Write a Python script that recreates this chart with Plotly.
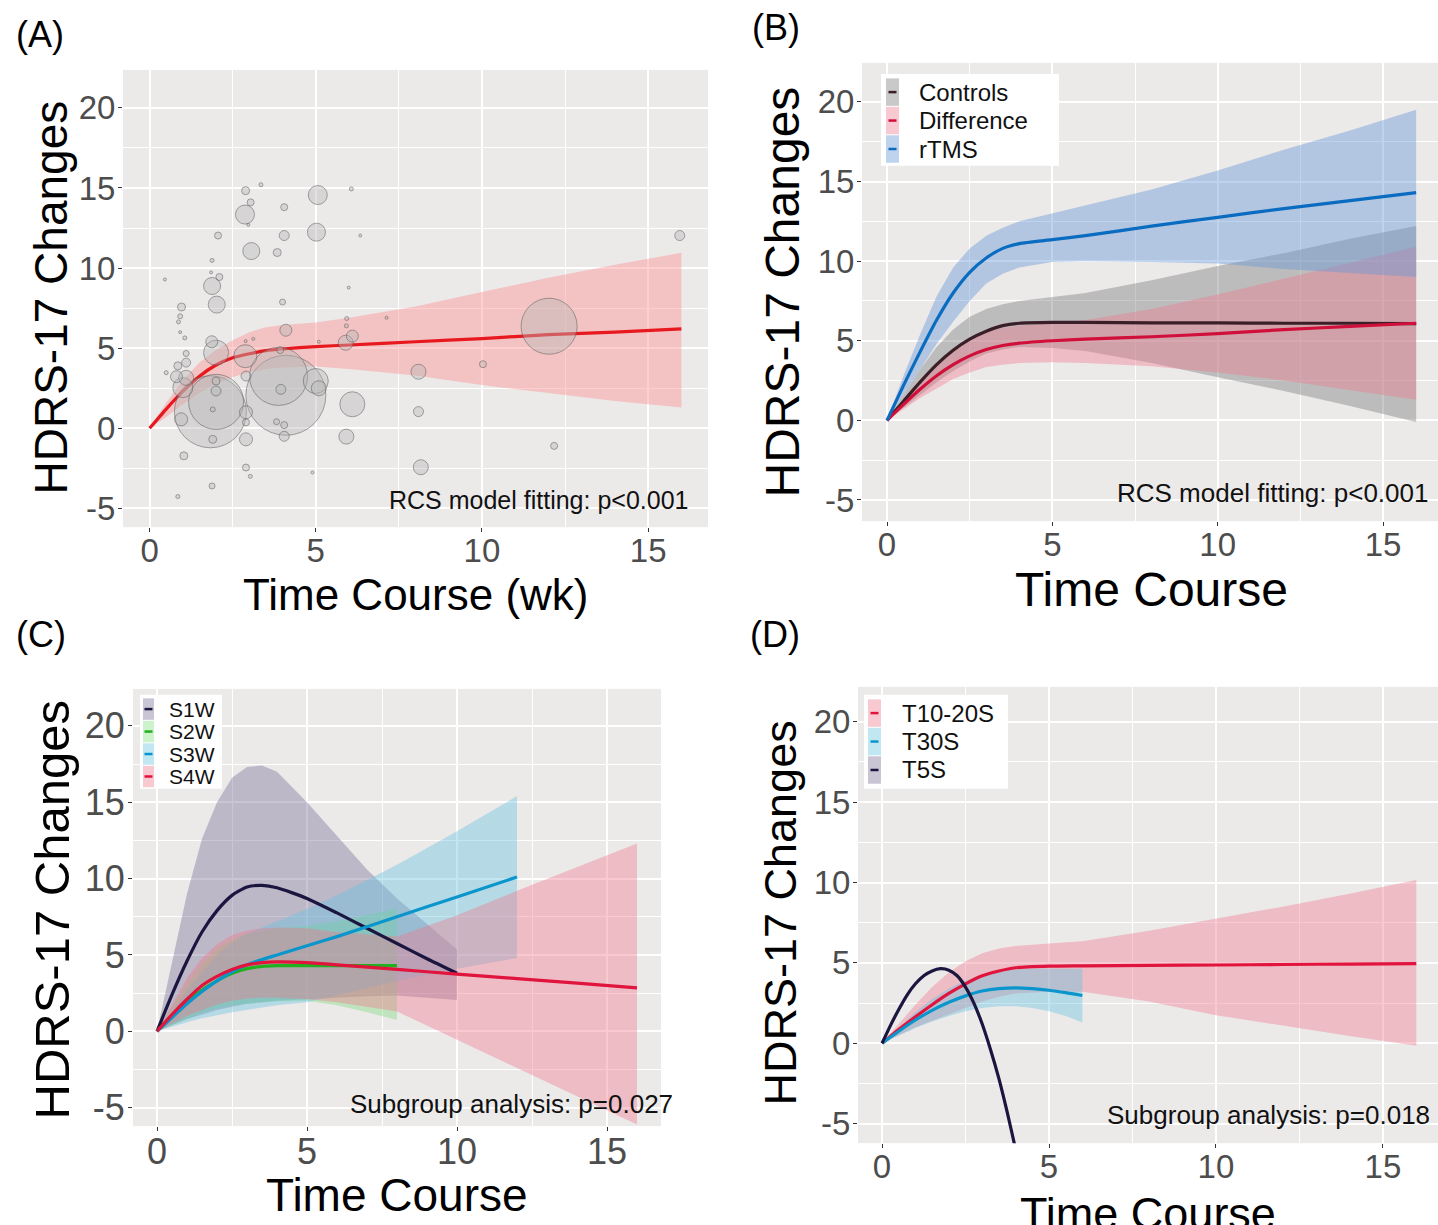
import plotly.graph_objects as go

W, H = 1438, 1225
FONT = "Liberation Sans, Arial, sans-serif"
BG = "#ECE9E9"
TICKC = "#4D4D4D"

# ---------------- data ----------------
y_ticks = [-5, 0, 5, 10, 15, 20]
y_tick_text = ["-5", "0", "5", "10", "15", "20"]
x_ticks = [0, 5, 10, 15]

# Panel A: RCS fit with confidence band and study bubbles
a_x = [0, 0.5, 1, 1.5, 2, 2.5, 3, 3.5, 4, 5, 6, 8, 10, 12, 14, 16]
a_fit = [0, 1.2, 2.3, 3.25, 3.95, 4.4, 4.65, 4.85, 4.95, 5.1, 5.2, 5.4, 5.6, 5.85, 6.0, 6.2]
a_lo = [0, 0.7, 1.5, 2.2, 2.8, 3.2, 3.5, 3.7, 3.8, 3.85, 3.7, 3.3, 2.7, 2.2, 1.7, 1.3]
a_hi = [0, 1.6, 3.0, 4.1, 4.9, 5.5, 6.0, 6.3, 6.45, 6.6, 6.9, 7.6, 8.5, 9.4, 10.2, 10.95]

bub_x = [2.89, 3.35, 6.07, 5.06, 3.04, 4.05, 2.87, 2.97, 5.02, 2.06, 4.05, 6.34, 15.95,
         3.06, 3.84, 1.88, 1.85, 2.10, 0.46, 1.88, 5.99, 2.02, 4.00, 0.96, 0.92, 0.87,
         7.13, 5.93, 5.92, 4.10, 0.92, 1.06, 12.02, 6.1, 5.9, 3.12, 2.89, 5.09, 1.87,
         1.10, 2.0, 2.88, 3.93, 0.85, 0.50, 1.1, 1.0, 0.95, 1.83, 2.0, 2.0, 2.0, 1.9,
         1.03, 1.9, 0.85, 1.88, 2.9, 2.9, 2.9, 3.03, 4.1, 3.88, 3.95, 2.9, 3.82, 4.05,
         4.05, 4.9, 5.0, 5.09, 6.1, 5.92, 8.09, 8.09, 8.16, 10.03, 12.17, 2.9, 0.81, 1.1]
bub_y = [14.83, 15.2, 14.94, 14.56, 14.1, 13.8, 13.34, 12.7, 12.24, 12.03, 12.03, 12.03, 12.03,
         11.06, 10.97, 10.48, 9.73, 9.44, 9.29, 8.88, 8.78, 7.72, 7.88, 7.57, 6.99, 6.64,
         6.9, 6.85, 6.39, 6.12, 6.0, 5.64, 6.37, 5.75, 5.34, 5.58, 5.44, 5.4, 5.4,
         4.67, 4.72, 4.5, 4.88, 3.9, 3.47, 3.15, 2.54, 0.56, 1.03, 1.65, 2.95, 2.33, 1.18,
         -1.72, -0.69, -4.26, -3.6, -0.69, -2.45, 0.37, -3.0, 2.06, 3.24, 2.43, 3.26, 0.41, 0.2,
         -0.5, -2.76, 2.95, 2.5, 1.5, -0.52, 3.53, 1.04, -2.43, 4.0, -1.1, 1.0, 3.22, 4.1]
bub_s = [8, 4, 4, 19, 7, 7, 19, 3, 18, 7, 10, 3, 10,
         17, 8, 4, 3, 7, 3, 17, 3, 17, 6, 8, 5, 4,
         3, 4, 4, 12, 3, 4, 56, 12, 15, 3, 3, 3, 12,
         6, 25, 23, 7, 8, 4, 15, 20, 13, 72, 55, 8, 10, 5,
         8, 8, 4, 6, 13, 7, 7, 4, 80, 58, 10, 10, 6, 7,
         10, 3, 25, 15, 25, 15, 15, 10, 15, 7, 7, 13, 12, 9]

# Panel B
b_x = [0, 0.5, 1, 1.5, 2, 2.5, 3, 3.5, 4, 5, 6, 8, 10, 12, 14, 16]
b_ctrl = [0, 1.2, 2.4, 3.5, 4.4, 5.1, 5.6, 5.95, 6.1, 6.15, 6.15, 6.12, 6.12, 6.1, 6.1, 6.08]
b_ctrl_lo = [0, 0.8, 1.6, 2.4, 3.1, 3.7, 4.2, 4.45, 4.6, 4.55, 4.35, 3.6, 2.7, 1.85, 0.9, -0.1]
b_ctrl_hi = [0, 1.6, 3.2, 4.6, 5.7, 6.5, 7.0, 7.3, 7.5, 7.75, 8.0, 8.8, 9.7, 10.5, 11.4, 12.2]
b_diff = [0, 1.0, 1.95, 2.8, 3.5, 4.05, 4.45, 4.7, 4.85, 5.0, 5.1, 5.25, 5.45, 5.7, 5.9, 6.1]
b_diff_lo = [0, 0.7, 1.4, 2.0, 2.6, 3.0, 3.35, 3.5, 3.6, 3.65, 3.6, 3.4, 3.0, 2.5, 1.9, 1.3]
b_diff_hi = [0, 1.3, 2.5, 3.6, 4.4, 5.1, 5.55, 5.8, 5.95, 6.1, 6.3, 7.0, 7.9, 8.9, 9.9, 10.9]
b_rtms = [0, 2.2, 4.3, 6.3, 8.0, 9.3, 10.2, 10.8, 11.1, 11.35, 11.6, 12.2, 12.75, 13.3, 13.8, 14.3]
b_rtms_lo = [0, 1.6, 3.2, 4.8, 6.2, 7.5, 8.6, 9.2, 9.6, 9.95, 10.0, 9.95, 9.85, 9.5, 9.25, 9.0]
b_rtms_hi = [0, 2.8, 5.4, 7.8, 9.6, 10.8, 11.6, 12.1, 12.5, 13.0, 13.5, 14.5, 15.7, 17.0, 18.2, 19.5]

# Panel C
c1_x = [0, 0.5, 1, 1.5, 2, 2.5, 3, 3.5, 4, 5, 6, 7, 8, 9, 10]
c1_y = [0, 2.4, 4.6, 6.5, 7.9, 8.9, 9.45, 9.55, 9.4, 8.7, 7.75, 6.75, 5.75, 4.75, 3.8]
c1_lo = [0, 0.4, 0.8, 1.1, 1.4, 1.6, 1.8, 1.9, 2.0, 2.1, 2.2, 2.3, 2.35, 2.2, 2.05]
c1_hi = [0, 4.5, 9.0, 12.6, 15.0, 16.6, 17.3, 17.4, 17.0, 15.0, 12.8, 10.6, 8.7, 7.0, 5.35]
c2_x = [0, 0.5, 1, 1.5, 2, 2.5, 3, 3.5, 4, 5, 6, 7, 8]
c2_y = [0, 1.0, 1.9, 2.7, 3.3, 3.8, 4.1, 4.25, 4.3, 4.3, 4.3, 4.3, 4.3]
c2_lo = [0, 0.4, 0.8, 1.2, 1.5, 1.7, 1.8, 1.9, 1.95, 2.0, 1.7, 1.25, 0.74]
c2_hi = [0, 1.6, 3.1, 4.4, 5.4, 6.0, 6.4, 6.6, 6.75, 6.9, 7.2, 7.6, 8.05]
c3_x = [0, 0.5, 1, 1.5, 2, 2.5, 3, 3.5, 4, 5, 6, 8, 10, 12]
c3_y = [0, 0.9, 1.8, 2.6, 3.3, 3.9, 4.35, 4.7, 5.0, 5.6, 6.2, 7.5, 8.8, 10.1]
c3_lo = [0, 0.3, 0.6, 0.85, 1.05, 1.25, 1.4, 1.55, 1.7, 1.9, 2.4, 3.3, 4.1, 4.8]
c3_hi = [0, 1.3, 2.7, 3.9, 5.0, 5.8, 6.4, 6.8, 7.2, 8.0, 8.9, 10.9, 13.1, 15.4]
c4_x = [0, 0.5, 1, 1.5, 2, 2.5, 3, 3.5, 4, 5, 6, 8, 10, 12, 14, 16]
c4_y = [0, 1.1, 2.1, 3.0, 3.6, 4.05, 4.35, 4.5, 4.55, 4.5, 4.35, 4.05, 3.75, 3.45, 3.15, 2.85]
c4_lo = [0, 0.5, 1.0, 1.4, 1.75, 2.0, 2.15, 2.2, 2.2, 2.1, 1.9, 1.3, -0.55, -2.4, -4.25, -6.1]
c4_hi = [0, 1.8, 3.5, 4.8, 5.7, 6.3, 6.6, 6.75, 6.8, 6.75, 6.5, 6.2, 7.6, 9.2, 10.75, 12.3]

# Panel D
d1_x = [0, 0.5, 1, 1.5, 2, 2.5, 3, 3.5, 4, 5, 6, 8, 10, 12, 14, 16]
d1_y = [0, 0.85, 1.65, 2.4, 3.1, 3.7, 4.2, 4.5, 4.7, 4.8, 4.82, 4.85, 4.87, 4.9, 4.93, 4.95]
d1_lo = [0, 0.5, 1.0, 1.4, 1.8, 2.2, 2.6, 2.9, 3.1, 3.2, 3.2, 2.6, 1.75, 1.1, 0.45, -0.15]
d1_hi = [0, 1.2, 2.4, 3.5, 4.4, 5.1, 5.6, 5.9, 6.05, 6.2, 6.35, 7.0, 7.75, 8.5, 9.3, 10.15]
d2_x = [0, 0.5, 1, 1.5, 2, 2.5, 3, 3.5, 4, 4.5, 5, 5.5, 6]
d2_y = [0, 0.75, 1.45, 2.05, 2.55, 2.95, 3.25, 3.4, 3.45, 3.4, 3.3, 3.15, 2.97]
d2_lo = [0, 0.5, 0.95, 1.35, 1.7, 2.0, 2.2, 2.3, 2.3, 2.2, 2.0, 1.7, 1.3]
d2_hi = [0, 1.0, 1.95, 2.75, 3.4, 3.9, 4.25, 4.5, 4.6, 4.65, 4.65, 4.65, 4.63]
d3_x = [0, 0.25, 0.5, 0.75, 1.0, 1.25, 1.5, 1.75, 2.0, 2.25, 2.5, 2.75, 3.0, 3.25, 3.5, 3.75, 4.0, 4.25]
d3_y = [0, 1.1, 2.1, 3.0, 3.7, 4.2, 4.5, 4.64, 4.55, 4.2, 3.5, 2.5, 1.2, -0.4, -2.2, -4.3, -6.6, -9.0]

# ---------------- styling ----------------
PINK = "rgba(240,120,140,0.40)"
PINK_A = "rgba(255,135,135,0.40)"
GREY = "rgba(120,120,120,0.40)"
BLUE = "rgba(100,150,215,0.42)"
PURP = "rgba(120,110,150,0.40)"
GREEN = "rgba(110,220,110,0.35)"
CYAN = "rgba(100,195,225,0.40)"

L_RED = "#D0103A"
L_DARK = "#3A1F28"
L_BLUE = "#0A6CC0"
L_NAVY = "#1B1640"
L_GREEN = "#20B020"
L_CYAN = "#0A96CC"


def PX(px):
    return px / W


def PY(py):
    return 1 - py / H


fig = go.Figure()


def ribbon(xs, lo, hi, color, xa, ya):
    fig.add_trace(go.Scatter(x=list(xs) + list(xs)[::-1], y=list(hi) + list(lo)[::-1],
                             fill="toself", fillcolor=color, mode="lines",
                             line=dict(width=0), hoverinfo="skip", showlegend=False,
                             xaxis=xa, yaxis=ya))


def curve(xs, ys, color, xa, ya, w=3.2):
    fig.add_trace(go.Scatter(x=xs, y=ys, mode="lines",
                             line=dict(color=color, width=w, shape="spline", smoothing=0.6),
                             showlegend=False, xaxis=xa, yaxis=ya))


# Panel A
ribbon(a_x, a_lo, a_hi, PINK_A, "x", "y")
curve(a_x, a_fit, "#E8191E", "x", "y")
order = sorted(range(len(bub_s)), key=lambda i: -bub_s[i])
fig.add_trace(go.Scatter(x=[bub_x[i] for i in order], y=[bub_y[i] for i in order], mode="markers",
                         marker=dict(size=[bub_s[i] for i in order], color="rgba(185,185,185,0.6)",
                                     line=dict(color="rgba(95,95,95,0.8)", width=1)),
                         showlegend=False, xaxis="x", yaxis="y"))

# Panel B
ribbon(b_x, b_ctrl_lo, b_ctrl_hi, GREY, "x2", "y2")
ribbon(b_x, b_diff_lo, b_diff_hi, PINK, "x2", "y2")
ribbon(b_x, b_rtms_lo, b_rtms_hi, BLUE, "x2", "y2")
curve(b_x, b_ctrl, L_DARK, "x2", "y2")
curve(b_x, b_diff, L_RED, "x2", "y2")
curve(b_x, b_rtms, L_BLUE, "x2", "y2")

# Panel C
ribbon(c1_x, c1_lo, c1_hi, PURP, "x3", "y3")
ribbon(c2_x, c2_lo, c2_hi, GREEN, "x3", "y3")
ribbon(c3_x, c3_lo, c3_hi, CYAN, "x3", "y3")
ribbon(c4_x, c4_lo, c4_hi, PINK, "x3", "y3")
curve(c1_x, c1_y, L_NAVY, "x3", "y3")
curve(c2_x, c2_y, L_GREEN, "x3", "y3")
curve(c3_x, c3_y, L_CYAN, "x3", "y3")
curve(c4_x, c4_y, "#E0143C", "x3", "y3")

# Panel D
ribbon(d1_x, d1_lo, d1_hi, PINK, "x4", "y4")
ribbon(d2_x, d2_lo, d2_hi, CYAN, "x4", "y4")
curve(d1_x, d1_y, "#E0143C", "x4", "y4")
curve(d2_x, d2_y, L_CYAN, "x4", "y4")
curve(d3_x, d3_y, L_NAVY, "x4", "y4")

# ---------------- axes ----------------
panels = {
    # name: (x px domain, y px domain(top,bottom), xrange, yrange, tickfont)
    "1": ((123, 708), (70, 528), [-0.8, 16.8], [-6.17, 22.37], 33),
    "2": ((862, 1438), (63, 522), [-0.756, 16.66], [-6.33, 22.45], 33),
    "3": ((133, 661), (690, 1128), [-0.8, 16.8], [-6.21, 22.42], 36),
    "4": ((858, 1438), (688, 1145), [-0.72, 16.65], [-6.21, 22.17], 33),
}
layout_axes = {}
for k, (xd, yd, xr, yr, fs) in panels.items():
    sfx = "" if k == "1" else k
    common = dict(showgrid=True, gridcolor="white", gridwidth=1.6, zeroline=False,
                  ticks="outside", ticklen=4, tickwidth=1, tickcolor="#333333",
                  tickfont=dict(family=FONT, size=fs, color=TICKC), showline=False,
                  tickmode="array")
    layout_axes["xaxis" + sfx] = dict(common, domain=[PX(xd[0]), PX(xd[1])], range=xr,
                                      tickvals=x_ticks, anchor="y" + sfx, ticklabelstandoff=-10,
                                      minor=dict(tickvals=[2.5, 7.5, 12.5], showgrid=True,
                                                 gridcolor="white", gridwidth=0.8, ticks=""))
    layout_axes["yaxis" + sfx] = dict(common, domain=[PY(yd[1]), PY(yd[0])], range=yr,
                                      tickvals=y_ticks, ticktext=y_tick_text, anchor="x" + sfx,
                                      ticklabelstandoff=-4,
                                      minor=dict(tickvals=[-2.5, 2.5, 7.5, 12.5, 17.5], showgrid=True,
                                                 gridcolor="white", gridwidth=0.8, ticks=""))

annotations = []
shapes = []


def text(px, py, s, size, angle=0, xanchor="center", color="black"):
    annotations.append(dict(x=PX(px), y=PY(py), xref="paper", yref="paper", text=s, showarrow=False,
                            textangle=angle, xanchor=xanchor, yanchor="middle",
                            font=dict(family=FONT, size=size, color=color)))


# panel labels
text(40, 35, "(A)", 36)
text(776, 28, "(B)", 36)
text(41, 636, "(C)", 36)
text(775, 636, "(D)", 36)

# axis titles
text(51, 298, "HDRS-17 Changes", 46, angle=-90)
text(783, 293, "HDRS-17 Changes", 48, angle=-90)
text(52, 912, "HDRS-17 Changes", 49, angle=-90)
text(781, 915, "HDRS-17 Changes", 45, angle=-90)
text(416, 595, "Time Course (wk)", 44)
text(1151, 590, "Time Course", 48)
text(397, 1197, "Time Course", 46)
text(1148, 1215, "Time Course", 45)

# in-panel notes
text(690, 501, "RCS model fitting: p<0.001", 25, xanchor="right", color="#111111")
text(1430, 494, "RCS model fitting: p<0.001", 26, xanchor="right", color="#111111")
text(675, 1106, "Subgroup analysis: p=0.027", 26, xanchor="right", color="#111111")
text(1432, 1117, "Subgroup analysis: p=0.018", 26, xanchor="right", color="#111111")


def legend(box, key_x, key_w, row_top, row_h, entries, text_x, fsize):
    x0, y0, x1, y1 = box
    shapes.append(dict(type="rect", xref="paper", yref="paper", x0=PX(x0), x1=PX(x1), y0=PY(y1), y1=PY(y0),
                       fillcolor="white", line=dict(width=0), layer="above"))
    for i, (label, fill, lcol) in enumerate(entries):
        t = row_top + i * row_h
        shapes.append(dict(type="rect", xref="paper", yref="paper", x0=PX(key_x), x1=PX(key_x + key_w),
                           y0=PY(t + row_h - 0.5), y1=PY(t + 0.5), fillcolor=fill, line=dict(width=0),
                           layer="above"))
        cy = t + row_h / 2
        shapes.append(dict(type="line", xref="paper", yref="paper", x0=PX(key_x + key_w / 2 - 4),
                           x1=PX(key_x + key_w / 2 + 4), y0=PY(cy), y1=PY(cy),
                           line=dict(color=lcol, width=2.5), layer="above"))
        text(text_x, cy, label, fsize, xanchor="left", color="#111111")


legend((881, 74, 1059, 166), 886, 13, 78, 28.5,
       [("Controls", GREY, L_DARK), ("Difference", PINK, L_RED), ("rTMS", BLUE, L_BLUE)], 917, 24)
legend((140, 696, 222, 790), 143, 11, 699, 22.5,
       [("S1W", PURP, L_NAVY), ("S2W", GREEN, L_GREEN), ("S3W", CYAN, L_CYAN), ("S4W", PINK, "#E0143C")],
       167, 21)
legend((864, 696, 1008, 790), 868, 13, 700, 28.5,
       [("T10-20S", PINK, "#E0143C"), ("T30S", CYAN, L_CYAN), ("T5S", PURP, L_NAVY)], 900, 24)

fig.update_layout(width=W, height=H, margin=dict(l=0, r=0, t=0, b=0, pad=0),
                  paper_bgcolor="white", plot_bgcolor=BG, showlegend=False,
                  annotations=annotations, shapes=shapes, **layout_axes)

fig.write_html("out.html")
